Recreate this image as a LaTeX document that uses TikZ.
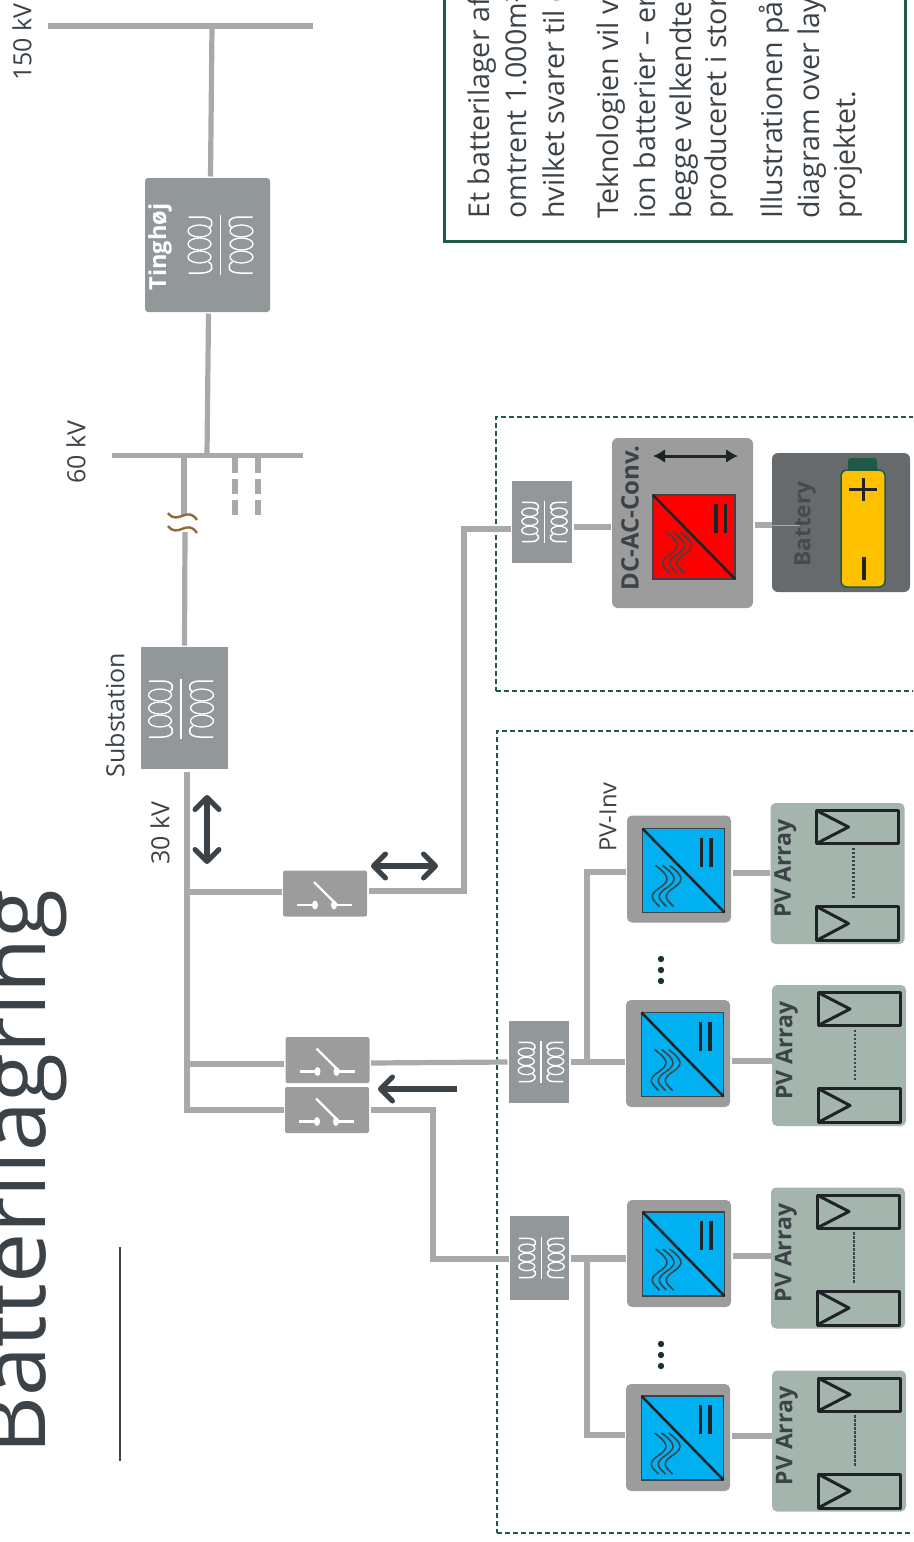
\documentclass[tikz,border=0pt]{standalone}
\usepackage{fontspec}
\setmainfont{Open Sans}
\usepackage{xcolor}
\usetikzlibrary{arrows.meta, positioning, calc}

\definecolor{wirecol}{HTML}{A9A9A9}
\definecolor{boxcol}{HTML}{9C9C9C}
\definecolor{trafocol}{HTML}{92979A}
\definecolor{slatecol}{HTML}{3B4248}
\definecolor{framecol}{HTML}{1E5A46}
\definecolor{batcol}{HTML}{666A6D}
\definecolor{battxtcol}{HTML}{454A4E}
\definecolor{pvcol}{HTML}{A4B5AD}
\definecolor{breakcol}{HTML}{8E6C3A}
\definecolor{invblue}{HTML}{00B0F0}
\definecolor{lightyellow}{HTML}{FFC000}
\definecolor{inkcol}{HTML}{1E2426}
\definecolor{dotcol}{HTML}{16352C}

\tikzset{
  wh/.style 2 args={minimum width=#1pt, minimum height=#2pt},
  pics/coil/.style={code={
    \draw[white, line width=1.8pt] (0,-30) -- (0,30);
    \draw[white, line width=1.5pt] (-32,-28) -- (-19,-28) .. controls (-7,-28) and (-6,-20) .. (-12,-17);
    \draw[white, line width=1.5pt] (-32,28) -- (-19,28) .. controls (-7,28) and (-6,20) .. (-12,17);
    \draw[white, line width=1.3pt] (-21,-14) ellipse (11.5 and 6);
    \draw[white, line width=1.3pt] (-21,-1) ellipse (11.5 and 6);
    \draw[white, line width=1.3pt] (-21,12) ellipse (11.5 and 6);
    \draw[white, line width=1.5pt] (32,-28) -- (19,-28) .. controls (7,-28) and (6,-20) .. (12,-17);
    \draw[white, line width=1.5pt] (32,28) -- (19,28) .. controls (7,28) and (6,20) .. (12,17);
    \draw[white, line width=1.3pt] (21,-14) ellipse (11.5 and 6);
    \draw[white, line width=1.3pt] (21,-1) ellipse (11.5 and 6);
    \draw[white, line width=1.3pt] (21,12) ellipse (11.5 and 6);
  }},
  pics/switchsym/.style={code={
    \draw[white, line width=2.4pt] (-28,11.5) -- (-10,11.5);
    \draw[white, line width=2.4pt] (9,11.5) -- (27,11.5);
    \draw[white, line width=2.4pt] (-11,-11.5) -- (12,11.5);
    \fill[white] (-10,11.5) ellipse (3 and 4.5);
    \fill[white] (9,11.5) ellipse (3 and 4.5);
  }},
  pics/convsym/.style 2 args={code={
    \draw[slatecol, fill=#1, line width=1.6pt] (-41,-42) rectangle (41,42);
    \draw[inkcol, line width=2.5pt] (-41,-42) -- (41,42);
    \draw[inkcol, line width=3.5pt] (#2,-33) -- (#2,-4);
    \draw[inkcol, line width=3.5pt] (#2+9.5,-33) -- (#2+9.5,-4);
    \draw[slatecol, line width=1.5pt] (-14,-5) .. controls (0,5) and (0,10) .. (-8,16) .. controls (-22,25) and (-18,28) .. (-10,36);
    \draw[slatecol, line width=1.5pt] (-21,-5) .. controls (-7,5) and (-7,10) .. (-15,16) .. controls (-29,25) and (-25,28) .. (-17,36);
    \draw[slatecol, line width=1.5pt] (-28,-5) .. controls (-14,5) and (-14,10) .. (-22,16) .. controls (-36,25) and (-32,28) .. (-24,36);
  }},
  pics/panels/.style={code={
    \draw[inkcol, line width=3pt, line join=round] (-21,-63) rectangle (61,-30);
    \draw[inkcol, line width=3pt, line join=round] (-21,-63) -- (11,-46.5) -- (-21,-30);
    \draw[inkcol, line width=3pt, line join=round] (-21,33) rectangle (61,67);
    \draw[inkcol, line width=3pt, line join=round] (-21,33) -- (11,50) -- (-21,67);
    \draw[slatecol, line width=2.5pt, dash pattern=on 2.5pt off 1.5pt] (16,-26) -- (16,25);
    \node[font=\bfseries\fontsize{23}{23}\selectfont, text=slatecol, rotate=90] (pvtxt) at (-52,-5) {PV Array};
  }}
}

\begin{document}
\begin{tikzpicture}[
    x=1pt, y=-1pt,
    wire/.style={draw=wirecol, line width=5.2pt},
    trafo/.style={fill=trafocol, inner sep=0pt, outer sep=1.5pt},
    swbox/.style={fill=boxcol, rounded corners=2pt, inner sep=0pt, outer sep=1.5pt, wh={84}{46}},
    convbox/.style={fill=boxcol, rounded corners=5pt, inner sep=0pt, outer sep=1.5pt},
    invbox/.style={convbox, wh={104}{107}},
    arraybox/.style={fill=pvcol, rounded corners=5pt, inner sep=0pt, wh={134}{141}},
    busbar/.style={fill=wirecol, inner sep=0pt},
    volt/.style={text=slatecol, rotate=90, font=\fontsize{25}{25}\selectfont},
    bodytxt/.style={text=slatecol, rotate=90, anchor=base west, inner sep=0pt, font=\fontsize{28.6}{28.6}\selectfont},
    flow/.style={draw=slatecol, line width=5.5pt, {Straight Barb[round, length=12pt, width=24pt, line width=5pt]}-{Straight Barb[round, length=12pt, width=24pt, line width=5pt]}},
    frame/.style={draw=framecol, line width=1.6pt, dash pattern=on 5pt off 3pt}
  ]
  \useasboundingbox (0,0) rectangle (913,1542);
  \clip (0,0) rectangle (913,1542);

  % heading
  \node[text=slatecol, rotate=90, anchor=base west, inner sep=0pt, font=\fontsize{89.5}{89.5}\selectfont] (title) at (45,1455) {Batterilagring};
  \coordinate (rule1) at (120,1247);
  \coordinate (rule2) at (120,1461);
  \draw[slatecol, line width=1.8pt] (rule1) -- (rule2);

  % text box
  \node[draw=framecol, line width=3pt, inner sep=0pt, wh={461}{256}] (infobox) at (674.5,113) {};
  \node[bodytxt] (l1) at (489.5,219) {Et batterilager af};
  \node[bodytxt] (l2) at (526.5,219) {omtrent 1.000m²};
  \node[bodytxt] (l3) at (564,219) {hvilket svarer til d};
  \node[bodytxt] (l4) at (618.5,219) {Teknologien vil v};
  \node[bodytxt] (l5) at (655.5,219) {ion batterier – er};
  \node[bodytxt] (l6) at (691.5,219) {begge velkendte};
  \node[bodytxt] (l7) at (726.5,219) {produceret i stor};
  \node[bodytxt] (l8) at (782.5,219) {Illustrationen på};
  \node[bodytxt] (l9) at (819.5,219) {diagram over lay};
  \node[bodytxt] (l10) at (855.5,219) {projektet.};

  % dashed frames
  \node[frame, inner sep=0pt, wh={500}{274}] (batframe) at (746,554) {};
  \node[frame, inner sep=0pt, wh={500}{802}] (pvframe) at (747,1132) {};

  % grid side
  \node[busbar, wh={265}{6}] (bus150) at (180.5,26) {};
  \node[busbar, wh={191}{5}] (bus60) at (207.5,455) {};
  \node[trafo, rounded corners=3pt, wh={125}{134}] (tinghoj) at (207.5,245) {};
  \node[trafo, wh={87}{122}] (substation) at (184.5,708) {};
  \pic at (220.5,245) {coil};
  \pic at (181,709) {coil};
  \node[text=white, rotate=90, font=\bfseries\fontsize{23.5}{23.5}\selectfont] (tinghojtxt) at (160,247) {Tinghøj};
  \node[volt] (v150) at (22,42) {150 kV};
  \node[volt] (v60) at (76,452) {60 kV};
  \node[volt] (v30) at (160,833) {30 kV};
  \node[volt] (subtxt) at (115,715) {Substation};

  \coordinate (j150) at (212,26);
  \coordinate (j60a) at (207,455);
  \coordinate (j60b) at (184,455);
  \coordinate (brk1) at (184,516);
  \coordinate (brk2) at (185,532);
  \coordinate (d1a) at (235,458);
  \coordinate (d1b) at (235,516);
  \coordinate (d2a) at (258,458);
  \coordinate (d2b) at (258,516);
  \draw[wire] (j150) -- ([xshift=3pt]tinghoj.north);
  \draw[wire] ([xshift=1pt]tinghoj.south) -- (j60a);
  \draw[wire] (j60b) -- (brk1);
  \draw[wire] (brk2) -- (substation.north);
  \draw[wire, dash pattern=on 15pt off 6pt] (d1a) -- (d1b);
  \draw[wire, dash pattern=on 15pt off 6pt] (d2a) -- (d2b);
  \draw[breakcol, line width=2.4pt] (168,513) .. controls (178,526) and (187,505) .. (197,520);
  \draw[breakcol, line width=2.4pt] (168,526) .. controls (178,539) and (187,518) .. (197,533);

  % 30 kV bus and switches
  \node[swbox] (swbat) at (325,893.5) {};
  \node[swbox] (swpva) at (327.5,1060) {};
  \node[swbox] (swpvb) at (327,1110) {};
  \pic at (325,893.5) {switchsym};
  \pic at (327.5,1060) {switchsym};
  \pic at (327,1110) {switchsym};
  \coordinate (bus30a) at (187,772);
  \coordinate (bus30b) at (187,1110);
  \coordinate (j30a) at (187,892);
  \coordinate (j30b) at (187,1064);
  \draw[wire] (bus30a) -- (bus30b) -- (swpvb.west);
  \draw[wire] (j30a) -- (j30a -| swbat.west);
  \draw[wire] (j30b) -- (j30b -| swpva.west);

  % arrows
  \coordinate (a1a) at (207,795);
  \coordinate (a1b) at (207,864);
  \coordinate (a2a) at (371,866);
  \coordinate (a2b) at (438,866);
  \coordinate (a3a) at (457,1089);
  \coordinate (a3b) at (378,1089);
  \draw[flow] (a1a) -- (a1b);
  \draw[flow] (a2a) -- (a2b);
  \draw[draw=slatecol, line width=5.5pt, -{Straight Barb[round, length=12pt, width=24pt, line width=5pt]}] (a3a) -- (a3b);

  % battery branch
  \node[trafo, wh={60}{82}] (trafobat) at (542,522) {};
  \pic[scale=.7] at (544.5,522) {coil};
  \node[convbox, rounded corners=6pt, wh={141}{170}] (conv) at (682.5,523) {};
  \pic at (694,537) {convsym={red}{22}};
  \node[text=slatecol, rotate=90, font=\bfseries\fontsize{24}{24}\selectfont] (convtxt) at (630,518) {DC-AC-Conv.};
  \coordinate (c1) at (653,456);
  \coordinate (c2) at (738,456);
  \draw[inkcol, line width=3pt, {Latex[length=12pt, width=14pt]}-{Latex[length=12pt, width=14pt]}] (c1) -- (c2);
  \node[fill=batcol, rounded corners=6pt, inner sep=0pt, wh={138}{139}] (batbox) at (841,522.5) {};
  \node[text=battxtcol, rotate=90, font=\bfseries\fontsize{22.5}{22.5}\selectfont] (battxt) at (805,524) {Battery};
  \fill[framecol, rounded corners=3pt] (848,458) rectangle (877,474);
  \draw[framecol, fill=lightyellow, line width=1.5pt, rounded corners=6pt] (841,470) rectangle (885,587);
  \draw[inkcol, line width=3pt] (849,489) -- (877,489);
  \draw[inkcol, line width=3pt] (863,478) -- (863,501);
  \draw[inkcol, line width=4pt] (864,557) -- (864,580);
  \coordinate (j464a) at (464,891);
  \coordinate (j464b) at (464,529);
  \coordinate (batwire) at (600,527);
  \coordinate (batin) at (800,525);
  \draw[wire] (swbat.east |- j464a) -- (j464a) -- (j464b) -- (trafobat.west |- j464b);
  \draw[wire] (trafobat.east |- batwire) -- (conv.west |- batwire);
  \draw[wire] (conv.east |- batin) -- (batbox.west |- batin);
  \draw[wirecol, line width=1pt] (batbox.west |- batin) -- (batin);

  % PV branch
  \node[trafo, wh={60}{82}] (trafoa) at (539,1062) {};
  \node[trafo, wh={59}{84}] (trafob) at (539.5,1258) {};
  \pic[scale=.7] at (541,1062) {coil};
  \pic[scale=.7] at (541.5,1258) {coil};
  \node[invbox] (inva) at (679,869) {};
  \node[invbox] (invb) at (678,1053.5) {};
  \node[invbox] (invc) at (679,1253.5) {};
  \node[invbox] (invd) at (678,1437.5) {};
  \pic at (683.5,870.5) {convsym={invblue}{18}};
  \pic at (682.5,1054.5) {convsym={invblue}{18}};
  \pic at (683.5,1254) {convsym={invblue}{18}};
  \pic at (682.5,1438) {convsym={invblue}{18}};
  \node[arraybox] (pva) at (837.5,873.5) {};
  \node[arraybox] (pvb) at (839,1055.5) {};
  \node[arraybox] (pvc) at (838,1258) {};
  \node[arraybox] (pvd) at (839,1441) {};
  \pic at (837.5,873.5) {panels};
  \pic at (839,1055.5) {panels};
  \pic at (838,1258) {panels};
  \pic at (839,1441) {panels};
  \node[text=slatecol, rotate=90, font=\fontsize{23.7}{23.7}\selectfont] (invtxt) at (608,817) {PV-Inv};
  \fill[dotcol] (661,959) circle (3.2);
  \fill[dotcol] (661,970) circle (3.2);
  \fill[dotcol] (661,981) circle (3.2);
  \fill[dotcol] (661,1344) circle (3.2);
  \fill[dotcol] (661,1355) circle (3.2);
  \fill[dotcol] (661,1366) circle (3.2);

  \coordinate (j587a) at (587,1062);
  \coordinate (j587b) at (587,872);
  \coordinate (j587c) at (587,1257);
  \coordinate (j587d) at (587,1435);
  \coordinate (j433a) at (433,1110);
  \coordinate (j433b) at (433,1259);
  \draw[wire] ([yshift=-3pt]swpva.east) -- (trafoa.west);
  \draw[wire] (trafoa.east) -- (invb.west |- trafoa.east);
  \draw[wire] (j587a) -- (j587b) -- (inva.west |- j587b);
  \draw[wire] (swpvb.east) -- (j433a) -- (j433b) -- (trafob.west |- j433b);
  \draw[wire, line width=7pt] (trafob.east) -- (invc.west |- trafob.east);
  \draw[wire] (j587c) -- (j587d) -- (invd.west |- j587d);
  \draw[wire] (inva.east |- 0,873) -- (pva.west |- 0,873);
  \draw[wire] (invb.east |- 0,1061) -- (pvb.west |- 0,1061);
  \draw[wire] (invc.east |- 0,1256) -- (pvc.west |- 0,1256);
  \draw[wire] (invd.east |- 0,1436) -- (pvd.west |- 0,1436);
\end{tikzpicture}
\end{document}
